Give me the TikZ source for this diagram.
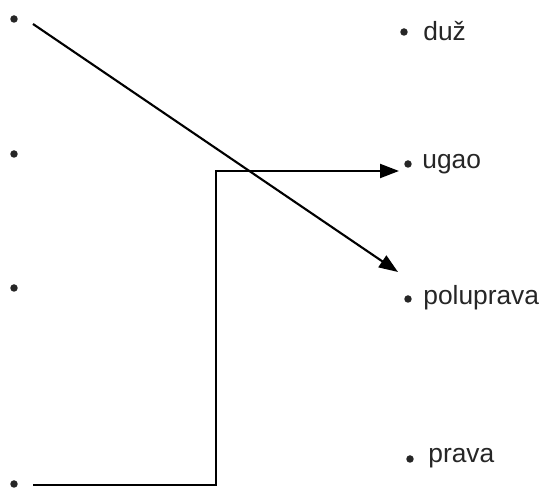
\documentclass[tikz,border=0pt]{standalone}
\usepackage{fontspec}
\setmainfont{Liberation Sans}
\usetikzlibrary{arrows.meta}
\tikzset{
  pt/.style = {circle, fill = black!85, inner sep = 0pt, minimum size = 0.15cm},
  lbl/.style = {right, inner sep = 0pt, font = \fontsize{15}{18}\selectfont, text = black!85},
  veza/.style = {line width = 1.2pt, -{Triangle[length = 0.38cm, width = 0.28cm]}}
}
\begin{document}
\begin{tikzpicture}[x = 0.02cm, y = -0.02cm]
\useasboundingbox (0,0) rectangle (542,489);
% left points
\node [pt] (l1) at (14,19) {};
\node [pt] (l2) at (14,154) {};
\node [pt] (l3) at (14,288) {};
\node [pt] (l4) at (14,484) {};
% right points with names
\node [pt] (r1) at (404,32) {};
\node [pt] (r2) at (408,164) {};
\node [pt] (r3) at (408,299) {};
\node [pt] (r4) at (410,459) {};
\node [lbl] (t1) at (423,31) {duž};
\node [lbl] (t2) at (422,164) {ugao};
\node [lbl] (t3) at (423,298) {poluprava};
\node [lbl] (t4) at (428,458) {prava};
% line ends
\coordinate (s1) at (33,24);
\coordinate (e1) at (398,272);
\coordinate (s2) at (33,485);
\coordinate (k1) at (216,485);
\coordinate (k2) at (216,171);
\coordinate (e2) at (399,171);
\draw [veza] (s1) -- (e1);
\draw [veza] (s2) -- (k1) -- (k2) -- (e2);
\end{tikzpicture}
\end{document}
